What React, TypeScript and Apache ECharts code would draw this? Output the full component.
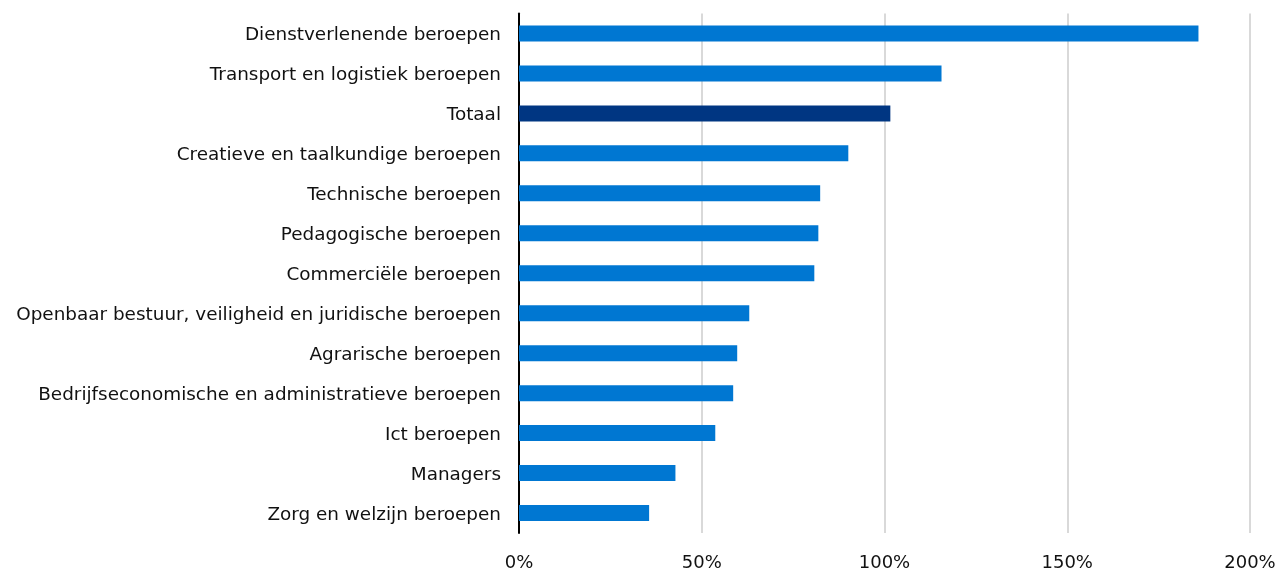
import React, { useEffect, useRef } from "react";
import * as echarts from "echarts";

const categories = [
  "Dienstverlenende beroepen",
  "Transport en logistiek beroepen",
  "Totaal",
  "Creatieve en taalkundige beroepen",
  "Technische beroepen",
  "Pedagogische beroepen",
  "Commerciële beroepen",
  "Openbaar bestuur, veiligheid en juridische beroepen",
  "Agrarische beroepen",
  "Bedrijfseconomische en administratieve beroepen",
  "Ict beroepen",
  "Managers",
  "Zorg en welzijn beroepen",
];

const values = [185.9, 115.6, 101.6, 90.1, 82.4, 81.9, 80.8, 63.0, 59.7, 58.6, 53.7, 42.8, 35.6];

const highlightCategory = "Totaal";
const barColor = "#0077d2";
const highlightColor = "#003682";

export default function App() {
  const ref = useRef<HTMLDivElement>(null);
  useEffect(() => {
    if (!ref.current) return;
    const chart = echarts.init(ref.current, null, { renderer: "svg" });
    const revCats = [...categories].reverse();
    const revVals = [...values].reverse();
    chart.setOption({
      animation: false,
      textStyle: { fontFamily: "DejaVu Sans" },
      grid: { left: 519, right: 31, top: 13.5, bottom: 34, containLabel: false },
      xAxis: {
        type: "value",
        min: 0,
        max: 200,
        interval: 50,
        axisLine: { show: false },
        axisTick: { show: false },
        splitLine: { show: true, lineStyle: { color: "#d9d9d9", width: 2 } },
        axisLabel: {
          formatter: "{value}%",
          color: "#111",
          fontSize: 18,
          margin: 19,
          fontFamily: "DejaVu Sans",
        },
      },
      yAxis: {
        type: "category",
        data: revCats,
        axisLine: { show: true, lineStyle: { color: "#000", width: 2 } },
        axisTick: { show: false },
        axisLabel: { color: "#111", fontSize: 18.4, margin: 18, fontFamily: "DejaVu Sans" },
      },
      series: [
        {
          type: "bar",
          barCategoryGap: "60%",
          data: revVals.map((v, i) => ({
            value: v,
            itemStyle: { color: revCats[i] === highlightCategory ? highlightColor : barColor },
          })),
        },
      ],
    });
    return () => chart.dispose();
  }, []);
  return (
    <div
      ref={ref}
      style={{ position: "fixed", left: 0, top: 0, width: 1281, height: 570 }}
    />
  );
}
